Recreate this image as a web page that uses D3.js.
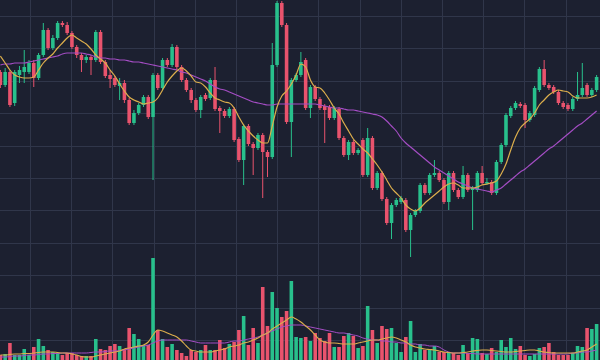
<!DOCTYPE html>
<html>
<head>
<meta charset="utf-8">
<script src="https://cdn.jsdelivr.net/npm/d3@7"></script>
<style>
    html, body { margin: 0; padding: 0; background: #1c2030; }
    svg { display: block; }
</style>
</head>
<body>
<svg id="vis" width="600" height="360"></svg>
<script>
// candle data, one entry per period (price units)
const opens = [228,215,228,197,225,228,228,237,222,245,270,252,262,277,275,267,253,245,240,243,
    240,268,238,225,222,214,217,200,177,187,195,203,183,225,212,240,235,253,233,220,
    210,200,190,205,202,220,192,189,184,191,161,140,174,156,152,165,148,143,235,297,
    275,178,220,225,240,192,213,201,194,193,182,191,162,145,158,147,160,125,162,112,
    127,101,77,95,98,100,70,85,89,115,107,125,127,120,98,127,110,103,125,110,
    110,127,117,118,107,138,155,184,192,196,195,180,185,210,231,215,213,208,197,195,
    191,201,205,215,205,210];
const closes = [215,228,195,228,230,233,237,222,245,270,252,262,277,275,267,253,245,240,243,240,
    268,238,224,221,215,217,200,177,187,195,203,183,225,212,240,235,253,233,220,210,
    200,190,203,201,220,191,189,184,191,160,140,174,156,152,165,148,143,235,297,275,
    178,220,225,238,192,213,201,192,190,182,192,162,145,158,147,150,125,162,112,127,
    101,77,95,100,102,70,85,89,115,107,125,127,120,98,127,110,103,125,110,112,
    127,117,118,107,138,155,185,192,197,194,180,187,212,231,215,212,208,197,193,191,
    201,205,212,205,210,223];
const highs = [230,232,230,230,234,250,240,240,247,277,272,265,279,279,278,269,255,247,245,245,
    270,270,240,230,224,222,220,202,190,197,205,205,227,227,242,242,256,255,235,222,
    212,202,205,207,222,233,194,191,193,193,163,176,176,158,167,167,150,257,299,299,
    277,222,227,248,242,215,215,203,196,195,194,193,164,160,160,152,162,172,164,129,
    129,103,97,102,104,102,87,91,117,117,127,140,129,122,129,129,112,134,127,114,
    129,134,122,120,140,157,187,194,199,198,197,189,214,233,240,217,215,210,199,197,
    203,228,237,217,212,225];
const lows = [212,213,193,194,217,217,226,213,220,243,250,250,260,273,265,251,242,228,237,225,
    238,236,222,212,213,200,197,175,175,185,193,181,120,210,210,233,233,230,218,208,
    197,188,182,199,200,189,167,182,182,158,138,115,154,125,150,102,123,141,233,273,
    176,143,218,223,190,182,199,190,157,180,180,160,143,140,145,145,123,123,110,110,
    99,75,61,93,96,68,43,83,87,105,105,123,118,96,90,108,101,101,108,70,
    108,115,115,105,105,136,153,182,190,192,172,178,183,208,213,210,206,195,191,189,
    189,199,203,203,203,208];
const volumes = [5,6,17,5,5,11,5,13,21,14,10,8,7,5,7,7,5,4,4,4,
    21,11,10,14,16,14,11,32,26,21,15,15,102,30,21,13,16,10,7,4,
    10,8,10,15,10,10,20,12,16,18,30,44,15,32,17,73,34,68,52,43,
    49,79,23,22,23,19,27,22,19,27,13,13,24,27,24,12,14,54,30,17,
    34,31,32,17,8,23,39,8,16,10,11,14,8,8,8,7,5,15,7,22,
    21,7,6,12,8,20,13,22,11,14,5,4,6,12,13,17,8,5,5,5,
    7,14,13,32,31,36];

// moving averages as shown on the chart
const maFast = [244,237,230,225,223,222,222,223,230,237,242,246,252,257,262,265,262,259,256,251,
    245,241,237,230,224,216,209,203,200,198,196,197,198,202,210,218,224,229,232,229,
    224,218,217,213,207,202,200,198,197,192,183,175,169,164,160,157,157,174,193,204,
    209,216,225,236,233,220,213,212,207,200,192,186,177,169,161,156,151,147,141,135,
    128,120,112,107,102,95,91,89,92,97,101,105,109,113,116,117,115,112,112,112,
    113,115,116,117,119,126,136,150,163,172,177,181,187,195,200,205,208,210,209,208,
    204,202,202,202,203,205];
const maSlow = [235,236,236,237,237,237,238,239,240,241,242,243,244,246,247,247,247,247,246,245,
    243,242,242,241,241,240,240,239,238,238,237,236,235,234,233,232,231,230,228,227,
    225,223,221,219,216,213,211,210,208,206,204,202,200,198,197,196,195,195,196,196,
    196,196,196,196,196,196,196,195,194,193,192,192,191,190,190,189,188,187,186,185,
    183,179,174,169,162,157,153,149,145,141,137,133,130,127,124,121,118,116,114,112,
    111,110,109,108,110,112,116,120,124,128,131,135,139,143,147,151,154,158,162,166,
    170,174,177,181,185,189];
const volMaFast = [5,5,5.5,6,6,6.5,6.5,7,7.5,8,8,8,7.5,7,7,6,5,3.5,3,3,
    4,5,6,7,8,9,11,12,13,14,15,18,25,30,29,27,25,23,19,14,
    10,9,8,8,8,9,10,11,13,14,15,17,18,20,22,25,27,31,34,37,
    40,43,41,38,34,30,25,20,18,17,17,16.5,16,16,16,17,18,19,20,20,
    21,22,23,22,20,18,15,13,12,11,10.5,10,9,8,7.5,7,7,7.5,8,9,
    9.5,10,10,9.5,9,8.5,8,8,8.5,9,9.5,10,10,9,8,7.5,7,7,7,7,
    7,8,9,10,13,16];
const volMaSlow = [3,3,3.5,4,4,4.5,5,5,5.5,6,6,6.5,6.5,7,7,7,7,7,7,7.5,
    8,8,8.5,9,9,9.5,10,11,12,13,14,15,17,19,20,20,20,20,20,20,
    19,18,17,17,17,17,17,17,18,19,19,20,21,22,23,25,27,29,31,33,
    34,35,35,35,34,33,32,31,30,29,28,27,27,26,25,24,22,21,20,20,
    19,19,18,18,17,17,16,16,15,15,14,14,13,10,8,7,7,7,6.5,6.5,
    6,6,6,6,6,6,6,6,6,6,6,6,6,6,6,6,6,6,6,6,
    7,7,8,8,9,10];

const WIDTH = 600;
const HEIGHT = 360;

const COLORS = {
    bg: "#1c2030",
    grid: "#30364a",
    up: "#28c08c",
    down: "#e9536d",
    maFast: "#dcae4c",
    maSlow: "#a44dc4"
};

window.onload = function(){
    setup();
};

var CandleChart = function(){
    this.svg;
    this.x;       // band scale over candle index
    this.yPrice;  // price scale, upper pane
    this.yVol;    // volume scale, lower pane

    this.setupScales = function(){
        this.x = d3.scaleBand()
            .domain(d3.range(opens.length))
            .range([-1.4, 598.4])
            .paddingInner(0.25)
            .paddingOuter(0);
        this.yPrice = d3.scaleLinear()
            .domain([0, 300])
            .range([300, 0]);
        this.yVol = d3.scaleLinear()
            .domain([0, 110])
            .range([HEIGHT, 250]);
    };

    /**
     * background and square-ish grid, no axis labels in this chart
     */
    this.drawGrid = function(){
        this.svg.append("rect")
            .attr("width", WIDTH)
            .attr("height", HEIGHT)
            .attr("fill", COLORS.bg);

        const g = this.svg.append("g").attr("class", "grid");
        g.selectAll("line.v")
            .data(d3.range(30, WIDTH, 41.2))
            .enter().append("line")
            .attr("class", "v")
            .attr("x1", d => Math.round(d) + 0.5).attr("x2", d => Math.round(d) + 0.5)
            .attr("y1", 0).attr("y2", HEIGHT)
            .attr("stroke", COLORS.grid);
        g.selectAll("line.h")
            .data(d3.range(16, HEIGHT, 32.4))
            .enter().append("line")
            .attr("class", "h")
            .attr("x1", 0).attr("x2", WIDTH)
            .attr("y1", d => Math.round(d) + 0.5).attr("y2", d => Math.round(d) + 0.5)
            .attr("stroke", COLORS.grid);
    };

    this.drawVolume = function(){
        const self = this;
        this.svg.append("g").selectAll("rect")
            .data(volumes)
            .enter().append("rect")
            .attr("x", (d, i) => self.x(i))
            .attr("width", self.x.bandwidth())
            .attr("y", d => self.yVol(d))
            .attr("height", d => HEIGHT - self.yVol(d))
            .attr("fill", (d, i) => closes[i] >= opens[i] ? COLORS.up : COLORS.down);
    };

    this.drawCandles = function(){
        const self = this;
        const half = self.x.bandwidth() / 2;
        const g = this.svg.append("g");

        // wicks
        g.selectAll("line")
            .data(opens)
            .enter().append("line")
            .attr("x1", (d, i) => self.x(i) + half)
            .attr("x2", (d, i) => self.x(i) + half)
            .attr("y1", (d, i) => self.yPrice(highs[i]))
            .attr("y2", (d, i) => self.yPrice(lows[i]))
            .attr("stroke", (d, i) => closes[i] >= d ? COLORS.up : COLORS.down)
            .attr("stroke-width", 1);

        // bodies
        g.selectAll("rect")
            .data(opens)
            .enter().append("rect")
            .attr("x", (d, i) => self.x(i))
            .attr("width", self.x.bandwidth())
            .attr("y", (d, i) => self.yPrice(Math.max(d, closes[i])))
            .attr("height", (d, i) => Math.max(1.5, Math.abs(self.yPrice(d) - self.yPrice(closes[i]))))
            .attr("fill", (d, i) => closes[i] >= d ? COLORS.up : COLORS.down);
    };

    /**
     * draw one moving average line over the given y scale
     */
    this.drawLine = function(values, yScale, color, width){
        const self = this;
        const half = self.x.bandwidth() / 2;
        const line = d3.line()
            .x((d, i) => self.x(i) + half)
            .y(d => yScale(d))
            .curve(d3.curveMonotoneX);
        this.svg.append("path")
            .datum(values)
            .attr("d", line)
            .attr("fill", "none")
            .attr("stroke", color)
            .attr("stroke-width", width);
    };
};

var _chart;

function setup(){
    _chart = new CandleChart();
    _chart.svg = d3.select("#vis");
    _chart.setupScales();
    _chart.drawGrid();
    _chart.drawVolume();
    _chart.drawLine(volMaSlow, _chart.yVol, COLORS.maSlow, 1);
    _chart.drawLine(volMaFast, _chart.yVol, COLORS.maFast, 1.1);
    _chart.drawCandles();
    _chart.drawLine(maSlow, _chart.yPrice, COLORS.maSlow, 1.2);
    _chart.drawLine(maFast, _chart.yPrice, COLORS.maFast, 1.2);
}
</script>
</body>
</html>
